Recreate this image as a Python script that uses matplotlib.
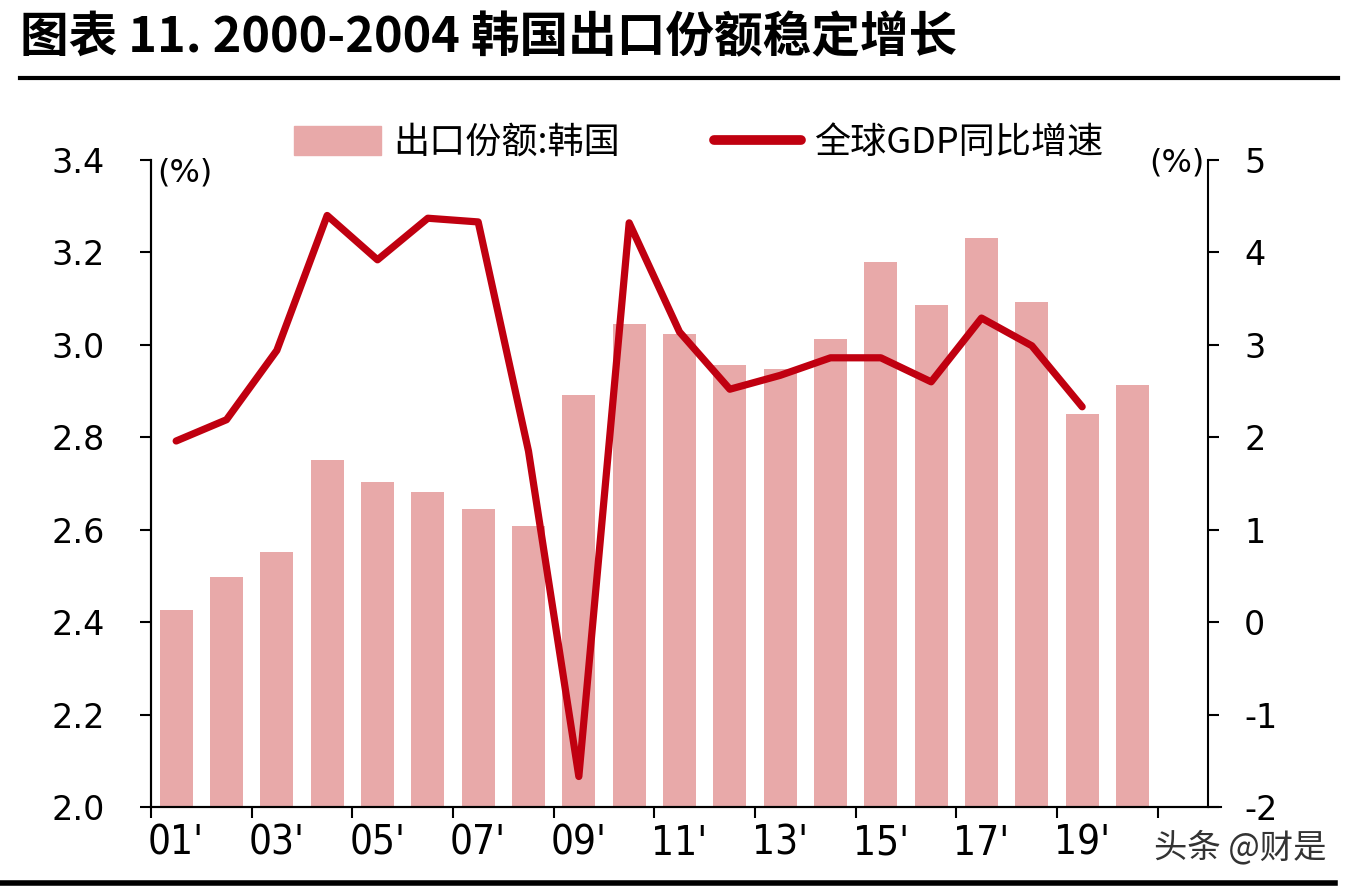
import numpy as np
import matplotlib
matplotlib.use("Agg")
import matplotlib.pyplot as plt
from matplotlib.lines import Line2D
from matplotlib.patches import Patch

plt.rcParams['font.family'] = ['Noto Sans CJK SC', 'DejaVu Sans']

years = ["01'", "02'", "03'", "04'", "05'", "06'", "07'", "08'", "09'", "10'",
         "11'", "12'", "13'", "14'", "15'", "16'", "17'", "18'", "19'", "20'"]
korea_share = [2.426, 2.498, 2.552, 2.751, 2.703, 2.682, 2.645, 2.608, 2.892, 3.045,
               3.024, 2.957, 2.948, 3.013, 3.180, 3.086, 3.231, 3.093, 2.850, 2.913]
gdp_growth = [1.96, 2.19, 2.94, 4.40, 3.92, 4.37, 4.33, 1.85, -1.67, 4.32,
              3.14, 2.52, 2.67, 2.86, 2.86, 2.60, 3.29, 2.99, 2.33]

bar_color = "#E8A9A9"
line_color = "#C00010"

fig = plt.figure(figsize=(13.54, 8.92), dpi=100)
ax = fig.add_axes([151 / 1354, 1 - 807 / 892, 1057 / 1354, 647 / 892])
ax2 = ax.twinx()

x = np.arange(len(years))
ax.bar(x, korea_share, width=0.65, color=bar_color, zorder=2)
ax2.plot(np.arange(len(gdp_growth)), gdp_growth, color=line_color, lw=5.2,
         solid_joinstyle="round", solid_capstyle="round", zorder=3)

ax.set_xlim(-0.5, 20.5)
ax.set_ylim(2.0, 3.4)
ax2.set_ylim(-2, 5)
ax.set_yticks(np.arange(2.0, 3.41, 0.2))
ax.set_yticklabels([f"{v:.1f}" for v in np.arange(2.0, 3.41, 0.2)],
                   family="DejaVu Sans", fontsize=24)
ax2.set_yticks(range(-2, 6))
ax2.set_yticklabels([str(v) for v in range(-2, 6)], family="DejaVu Sans", fontsize=24)

ax.set_xticks(np.arange(-0.5, 20.0, 2))
ax.set_xticklabels([])
ax.set_xticks(x[::2], minor=True)
ax.set_xticklabels(years[::2], minor=True, family="DejaVu Sans", fontsize=29,
                   fontstretch="condensed")
ax.tick_params(axis="x", which="major", length=8, width=1.5, direction="out")
ax.tick_params(axis="x", which="minor", length=0, pad=12)
ax.tick_params(axis="y", length=8, width=1.5, pad=25)
ax2.tick_params(axis="y", length=8, width=1.5, pad=18)

for a in (ax, ax2):
    a.spines["top"].set_visible(False)
    for s in ("left", "right", "bottom"):
        a.spines[s].set_linewidth(1.5)
ax.spines["right"].set_visible(False)
ax.spines["bottom"].set_bounds(-0.5, 20.75)
ax.spines["bottom"].set_zorder(5)

fig.text(157 / 1354, 1 - 173 / 892, "(%)", fontsize=23, family="DejaVu Sans",
         va="center", ha="left")
fig.text(1205 / 1354, 1 - 163 / 892, "(%)", fontsize=23, family="DejaVu Sans",
         va="center", ha="right")

handles = [Patch(color=bar_color),
           Line2D([0], [0], color=line_color, lw=7, solid_capstyle="round")]
fig.legend(handles, ["出口份额:韩国", "全球GDP同比增速"], loc="center",
           bbox_to_anchor=(0.516, 1 - 143 / 892), ncol=2, frameon=False,
           fontsize=26, handlelength=2.4, handleheight=0.85, columnspacing=2.6,
           handletextpad=0.35)

fig.text(20 / 1354, 1 - 38 / 892, "图表 11. 2000-2004 韩国出口份额稳定增长",
         fontsize=35, fontweight="bold", va="center", ha="left")
fig.add_artist(Line2D([20 / 1354, 1338 / 1354], [1 - 78 / 892, 1 - 78 / 892],
                      color="black", lw=3))
fig.add_artist(Line2D([0, 1335 / 1354], [1 - 883 / 892, 1 - 883 / 892],
                      color="black", lw=4))
fig.text(1240 / 1354, 1 - 848 / 892, "头条 @财是", fontsize=24, color="#333333",
         va="center", ha="center")

fig.savefig("out.png", dpi=100, facecolor="white")
